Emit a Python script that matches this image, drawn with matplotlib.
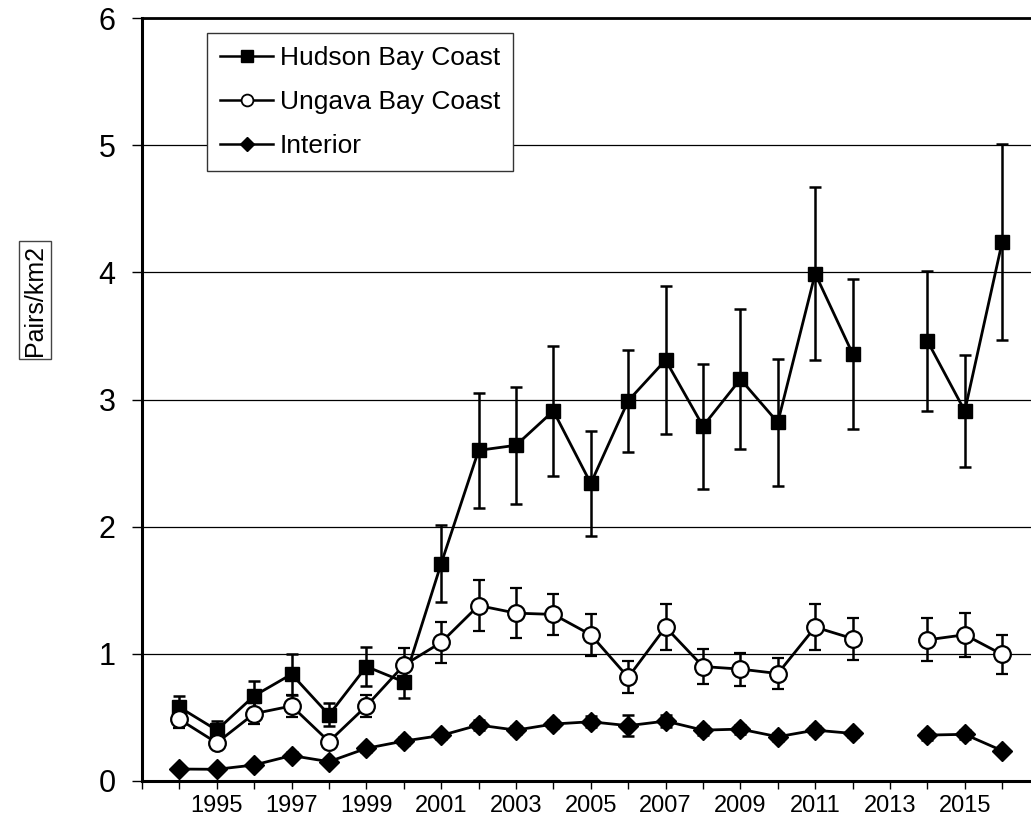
import numpy as np
import matplotlib
matplotlib.use('Agg')
import matplotlib.pyplot as plt
from matplotlib.lines import Line2D

plt.rcParams['font.family'] = ['Liberation Sans', 'DejaVu Sans']

# ---- data (2013 has no survey) ----
years = list(range(1994, 2017))
nan = np.nan

hudson = [0.58, 0.40, 0.67, 0.84, 0.52, 0.90, 0.78, 1.71, 2.60, 2.64, 2.91, 2.34,
          2.99, 3.31, 2.79, 3.16, 2.82, 3.99, 3.36, nan, 3.46, 2.91, 4.24]
hudson_err = [0.09, 0.07, 0.12, 0.16, 0.09, 0.155, 0.13, 0.30, 0.455, 0.46, 0.51, 0.41,
              0.40, 0.58, 0.49, 0.55, 0.50, 0.68, 0.59, nan, 0.55, 0.44, 0.77]

ungava = [0.485, 0.30, 0.53, 0.59, 0.31, 0.59, 0.91, 1.09, 1.38, 1.32, 1.31, 1.15,
          0.815, 1.21, 0.90, 0.88, 0.845, 1.21, 1.12, nan, 1.11, 1.15, 0.995]
ungava_err = [0.07, 0.03, 0.08, 0.09, 0.03, 0.085, 0.135, 0.16, 0.20, 0.195, 0.16, 0.165,
              0.125, 0.18, 0.135, 0.13, 0.125, 0.18, 0.165, nan, 0.17, 0.175, 0.15]

interior = [0.094, 0.092, 0.126, 0.20, 0.152, 0.257, 0.314, 0.358, 0.44, 0.40, 0.448, 0.466,
            0.435, 0.471, 0.40, 0.408, 0.348, 0.40, 0.374, nan, 0.361, 0.367, 0.238]
interior_err = [0.02, 0.02, 0.02, 0.03, 0.02, 0.03, 0.03, 0.03, 0.04, 0.03, 0.035, 0.045,
                0.085, 0.05, 0.035, 0.035, 0.03, 0.03, 0.03, nan, 0.035, 0.035, 0.02]

labels = ['Hudson Bay Coast', 'Ungava Bay Coast', 'Interior']

W, H = 1031, 815
fig = plt.figure(figsize=(W / 100, H / 100), dpi=100)
ax = fig.add_axes([142 / W, (H - 781) / H, (W - 142) / W, (781 - 18) / H])

ax.set_xlim(1993, 1993 + (W - 142) / 37.4)
ax.set_ylim(0, 6)

# gridlines behind the series
for yv in range(1, 7):
    ax.axhline(yv, color='black', lw=0.9, zorder=1)

common = dict(color='black', lw=2.0, elinewidth=1.8, capsize=4.5, capthick=1.8,
              markeredgecolor='black', zorder=3)
ax.errorbar(years, hudson, yerr=hudson_err, fmt='-s', markersize=9.5,
            markerfacecolor='black', **common)
ax.errorbar(years, ungava, yerr=ungava_err, fmt='-o', markersize=12,
            markerfacecolor='white', markeredgewidth=1.6, **common)
ax.errorbar(years, interior, yerr=interior_err, fmt='-D', markersize=10,
            markerfacecolor='black', **common)

# axes styling
ax.spines['right'].set_visible(False)
ax.spines['top'].set_linewidth(2.0)
ax.spines['left'].set_linewidth(2.2)
ax.spines['bottom'].set_linewidth(2.2)

ax.set_yticks(range(0, 7))
ax.tick_params(axis='y', direction='out', length=7, width=1, pad=12, labelsize=22)

ax.set_xticks(list(range(1993, 2017)))
ax.set_xticklabels([str(y) if (y % 2 == 1 and y >= 1995) else '' for y in range(1993, 2017)])
ax.tick_params(axis='x', direction='out', length=6, width=1, pad=4, labelsize=17)

# legend without error bars, smaller markers
handles = [
    Line2D([], [], color='black', lw=1.8, marker='s', markersize=8, markerfacecolor='black'),
    Line2D([], [], color='black', lw=1.8, marker='o', markersize=8.5, markerfacecolor='white',
           markeredgewidth=1.3),
    Line2D([], [], color='black', lw=1.8, marker='D', markersize=7.5, markerfacecolor='black'),
]
leg = ax.legend(handles, labels, loc='upper left',
                bbox_to_anchor=((207 - 142) / (W - 142), (781 - 33) / (781 - 18)),
                fontsize=19, frameon=True, fancybox=False, framealpha=1,
                edgecolor='#333333', handlelength=2.0, handletextpad=0.25,
                labelspacing=0.75, borderpad=0.5, borderaxespad=0)
leg.get_frame().set_linewidth(1.0)
leg.set_zorder(5)

fig.text(35 / W, 1 - 300 / H, 'Pairs/km2', rotation=90, fontsize=18,
         ha='center', va='center',
         bbox=dict(boxstyle='square,pad=0.15', fc='white', ec='#444444', lw=1.0))

fig.savefig('out.png', dpi=100)
